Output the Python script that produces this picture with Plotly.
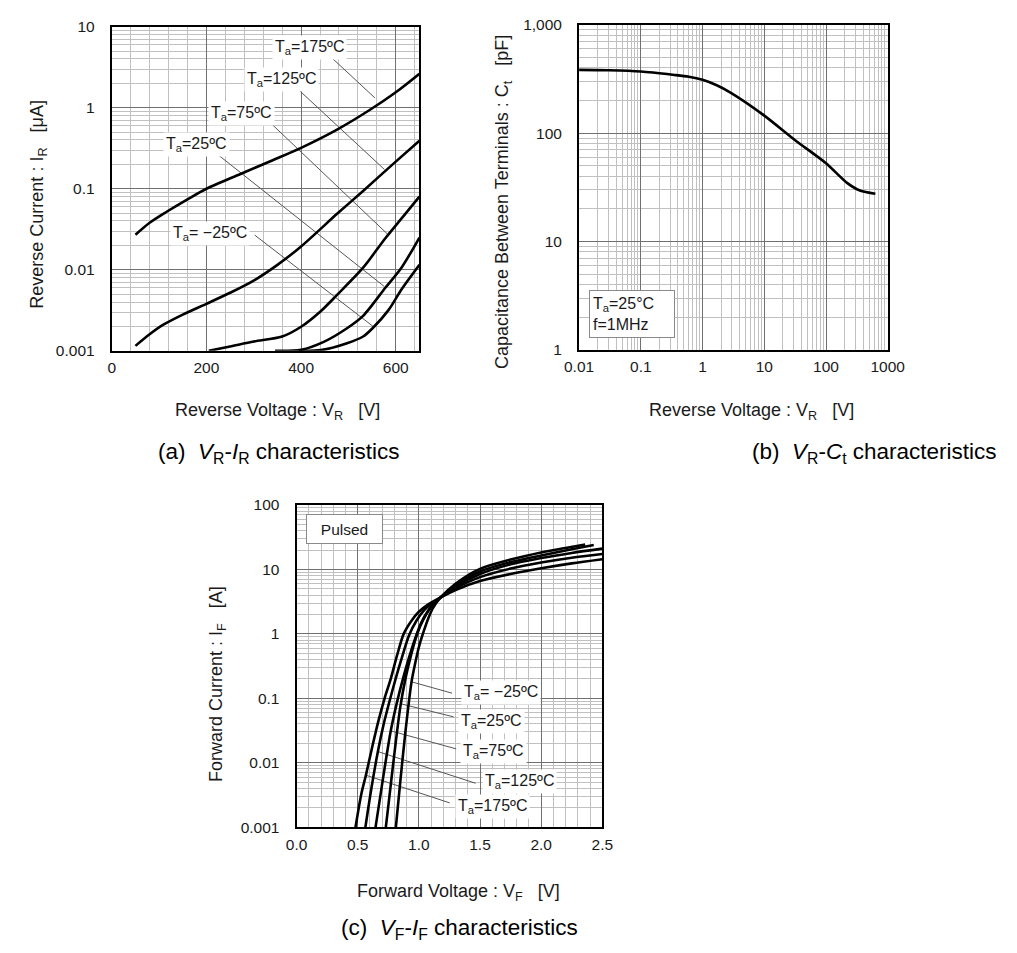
import math
import plotly.graph_objects as go

W, H = 1017, 953
FONT = "Arial, 'Liberation Sans', sans-serif"
TXT = "#1a1a1a"
MAJOR = "#707070"
MINOR = "#c0c0c0"
NB = "\u00a0"

# ---------------- (a) VR-IR: reverse current [uA] vs reverse voltage [V]
vr_labels = ["T<sub>a</sub>=175ºC", "T<sub>a</sub>=125ºC", "T<sub>a</sub>=75ºC",
             "T<sub>a</sub>=25ºC", "T<sub>a</sub>= −25ºC"]
vr_175 = [50, 80, 116, 160, 200, 272, 340, 400, 476, 544, 600, 650]
ir_175 = [0.027, 0.038, 0.052, 0.074, 0.1, 0.152, 0.225, 0.32, 0.537, 0.93, 1.55, 2.63]
vr_125 = [50, 80, 109, 150, 200, 250, 299, 350, 400, 476, 531, 600, 650]
ir_125 = [0.00115, 0.0016, 0.0021, 0.0028, 0.0038, 0.0052, 0.0073, 0.0115, 0.0194, 0.049, 0.094, 0.216, 0.39]
vr_75 = [205, 250, 300, 360, 400, 442, 476, 531, 578, 615, 650]
ir_75 = [0.001, 0.00113, 0.0013, 0.0015, 0.00198, 0.0031, 0.0049, 0.0106, 0.0245, 0.045, 0.08]
vr_25 = [345, 400, 449, 497, 531, 578, 612, 650]
ir_25 = [0.001, 0.00103, 0.0013, 0.0019, 0.0027, 0.006, 0.0106, 0.025]
vr_m25 = [395, 442, 497, 531, 551, 585, 612, 650]
ir_m25 = [0.001, 0.00102, 0.00124, 0.0015, 0.0019, 0.0032, 0.0057, 0.0115]
# label centres (V, uA) and leader line ends
vr_lab_x = [417, 359, 275, 180, 208]
vr_lab_y = [5.46, 2.25, 0.86, 0.349, 0.0281]
vr_lead = [((465, 4.12), (556, 1.32)),
           ((393, 1.70), (576, 0.173)),
           ((322, 0.77), (583, 0.0274)),
           ((224, 0.264), (576, 0.0062)),
           ((302, 0.0268), (553, 0.00198))]

# ---------------- (b) VR-Ct: capacitance [pF] vs reverse voltage [V]
ct_vr = [0.01, 0.03, 0.1, 0.333, 0.6, 1, 1.7, 2.88, 10, 31.6, 100, 219, 355, 630]
ct_pf = [383, 380, 370, 345, 331, 310, 276, 235, 145, 86, 52.7, 34.7, 29.5, 27.5]

# ---------------- (c) VF-IF: forward current [A] vs forward voltage [V]
vf_labels = ["T<sub>a</sub>= −25ºC", "T<sub>a</sub>=25ºC", "T<sub>a</sub>=75ºC",
             "T<sub>a</sub>=125ºC", "T<sub>a</sub>=175ºC"]
vf_m25 = [0.812, 0.85, 0.89, 0.94, 0.97, 1.0, 1.04, 1.08, 1.12, 1.18, 1.3, 1.5, 1.75, 2.0, 2.2, 2.36]
if_m25 = [0.001, 0.0055, 0.03, 0.18, 0.35, 0.62, 1.1, 1.8, 2.6, 3.7, 6.0, 10.2, 14.2, 18.3, 21.5, 24.3]
vf_25 = [0.730, 0.77, 0.81, 0.849, 0.89, 0.93, 0.97, 1.01, 1.06, 1.11, 1.18, 1.3, 1.5, 1.75, 2.0, 2.25, 2.43]
if_25 = [0.001, 0.0045, 0.02, 0.075, 0.2, 0.42, 0.8, 1.3, 2.0, 2.8, 3.7, 5.7, 9.3, 13.0, 16.5, 20.5, 24.0]
vf_75 = [0.646, 0.70, 0.77, 0.82, 0.87, 0.92, 0.97, 1.02, 1.07, 1.12, 1.18, 1.3, 1.5, 1.75, 2.0, 2.25, 2.5]
if_75 = [0.001, 0.0047, 0.031, 0.085, 0.2, 0.43, 0.85, 1.5, 2.2, 2.9, 3.7, 5.4, 8.5, 12.0, 15.0, 18.0, 21.0]
vf_125 = [0.563, 0.61, 0.665, 0.71, 0.76, 0.81, 0.86, 0.92, 0.98, 1.04, 1.1, 1.18, 1.3, 1.5, 1.75, 2.0, 2.25, 2.5]
if_125 = [0.001, 0.0038, 0.0149, 0.038, 0.09, 0.2, 0.42, 0.95, 1.6, 2.3, 2.9, 3.7, 5.1, 7.6, 10.3, 12.8, 15.2, 17.4]
vf_175 = [0.482, 0.53, 0.567, 0.62, 0.67, 0.72, 0.77, 0.82, 0.876, 0.94, 1.0, 1.08, 1.18, 1.3, 1.5, 1.75, 2.0, 2.25, 2.5]
if_175 = [0.001, 0.0033, 0.0064, 0.018, 0.045, 0.1, 0.2, 0.45, 1.0, 1.6, 2.2, 2.9, 3.7, 4.8, 6.6, 8.5, 10.4, 12.4, 14.4]
vf_lab_x = [1.669, 1.598, 1.608, 1.82, 1.60]
vf_lab_y = [0.123, 0.0443, 0.0151, 0.0052, 0.00211]
vf_lead = [((0.941, 0.180), (1.271, 0.120)),
           ((0.849, 0.0824), (1.284, 0.0515)),
           ((0.770, 0.0312), (1.305, 0.0164)),
           ((0.665, 0.0149), (1.464, 0.0048)),
           ((0.567, 0.0064), (1.252, 0.00238))]

# tick labels
a_xticks = [0, 200, 400, 600]
a_yticks = [0.001, 0.01, 0.1, 1, 10]
a_yticktext = ["0.001", "0.01", "0.1", "1", "10"]
b_xticks = [0.01, 0.1, 1, 10, 100, 1000]
b_xticktext = ["0.01", "0.1", "1", "10", "100", "1000"]
b_yticks = [1, 10, 100, 1000]
b_yticktext = ["1", "10", "100", "1,000"]
c_xticks = [0, 0.5, 1.0, 1.5, 2.0, 2.5]
c_xticktext = ["0.0", "0.5", "1.0", "1.5", "2.0", "2.5"]
c_yticks = [0.001, 0.01, 0.1, 1, 10, 100]
c_yticktext = ["0.001", "0.01", "0.1", "1", "10", "100"]


def px_x(p):
    return p / W


def px_y(p):
    return 1 - p / H


def log_minors(lo, hi):
    return [m * 10 ** e for e in range(lo, hi) for m in range(2, 10)]


fig = go.Figure()

curve = dict(mode="lines", line=dict(color="black", width=2.6, shape="spline", smoothing=0.8),
             hoverinfo="skip", showlegend=False)
lead = dict(mode="lines", line=dict(color="#555555", width=1), hoverinfo="skip", showlegend=False)

# (a)
for (p0, p1) in vr_lead:
    fig.add_trace(go.Scatter(x=[p0[0], p1[0]], y=[p0[1], p1[1]], xaxis="x", yaxis="y", **lead))
for xs, ys in [(vr_175, ir_175), (vr_125, ir_125), (vr_75, ir_75), (vr_25, ir_25), (vr_m25, ir_m25)]:
    fig.add_trace(go.Scatter(x=xs, y=ys, xaxis="x", yaxis="y", **curve))

# (b)
fig.add_trace(go.Scatter(x=ct_vr, y=ct_pf, xaxis="x2", yaxis="y2", **curve))

# (c)
for (p0, p1) in vf_lead:
    fig.add_trace(go.Scatter(x=[p0[0], p1[0]], y=[p0[1], p1[1]], xaxis="x3", yaxis="y3", **lead))
for xs, ys in [(vf_m25, if_m25), (vf_25, if_25), (vf_75, if_75), (vf_125, if_125), (vf_175, if_175)]:
    fig.add_trace(go.Scatter(x=xs, y=ys, xaxis="x3", yaxis="y3", **curve))

base_axis = dict(showline=True, mirror=True, linecolor="black", linewidth=2, zeroline=False,
                 showgrid=True, gridcolor=MAJOR, gridwidth=1, ticks="",
                 tickfont=dict(family=FONT, size=15.5, color=TXT))
xax = dict(base_axis, ticklabelstandoff=2)
yax = dict(base_axis, ticklabelstandoff=12)

fig.update_layout(
    width=W, height=H, margin=dict(l=0, r=0, t=0, b=0),
    paper_bgcolor="white", plot_bgcolor="white", showlegend=False,
    font=dict(family=FONT, color=TXT),
    xaxis=dict(xax, anchor="y", domain=[px_x(100), px_x(418)], range=[0, 650],
               tickmode="array", tickvals=a_xticks,
               minor=dict(tickmode="linear", tick0=0, dtick=40, showgrid=True, gridcolor=MINOR, gridwidth=1)),
    yaxis=dict(yax, anchor="x", type="log", domain=[px_y(348), px_y(18)], range=[-3, 1],
               tickmode="array", tickvals=a_yticks, ticktext=a_yticktext,
               minor=dict(tickmode="array", tickvals=log_minors(-3, 1), showgrid=True, gridcolor=MINOR)),
    xaxis2=dict(xax, anchor="y2", type="log", domain=[px_x(583), px_x(902)], range=[-2, 3],
                tickmode="array", tickvals=b_xticks, ticktext=b_xticktext,
                minor=dict(tickmode="array", tickvals=log_minors(-2, 3), showgrid=True, gridcolor=MINOR)),
    yaxis2=dict(yax, anchor="x2", type="log", domain=[px_y(347), px_y(16)], range=[0, 3],
                tickmode="array", tickvals=b_yticks, ticktext=b_yticktext,
                minor=dict(tickmode="array", tickvals=log_minors(0, 3), showgrid=True, gridcolor=MINOR)),
    xaxis3=dict(xax, anchor="y3", domain=[px_x(291), px_x(607)], range=[0, 2.5],
                tickmode="array", tickvals=c_xticks, ticktext=c_xticktext,
                minor=dict(tickmode="linear", tick0=0, dtick=0.1, showgrid=True, gridcolor=MINOR)),
    yaxis3=dict(yax, anchor="x3", type="log", domain=[px_y(833), px_y(505)], range=[-3, 2],
                tickmode="array", tickvals=c_yticks, ticktext=c_yticktext,
                minor=dict(tickmode="array", tickvals=log_minors(-3, 2), showgrid=True, gridcolor=MINOR)),
)

ann = []
lab_font = dict(family=FONT, size=16, color=TXT)
for t, x, y in zip(vr_labels, vr_lab_x, vr_lab_y):
    ann.append(dict(text=t, x=x, y=math.log10(y), xref="x", yref="y", showarrow=False,
                    bgcolor="white", borderpad=2, font=lab_font))
for t, x, y in zip(vf_labels, vf_lab_x, vf_lab_y):
    ann.append(dict(text=t, x=x, y=math.log10(y), xref="x3", yref="y3", showarrow=False,
                    bgcolor="white", borderpad=2, font=lab_font))

# condition boxes
ann.append(dict(text="T<sub>a</sub>=25°C<br>f=1MHz", x=px_x(593), y=px_y(286), xref="paper", yref="paper",
                xanchor="left", yanchor="top", align="left", showarrow=False, bgcolor="white",
                bordercolor="#8a8a8a", borderwidth=1, borderpad=3, width=78, height=40,
                font=dict(family=FONT, size=16, color=TXT)))
ann.append(dict(text="Pulsed", x=px_x(301), y=px_y(514), xref="paper", yref="paper",
                xanchor="left", yanchor="top", showarrow=False, bgcolor="white",
                bordercolor="#8a8a8a", borderwidth=1, borderpad=3, width=69, height=22,
                font=dict(family=FONT, size=15.5, color=TXT)))

title_font = dict(family=FONT, size=18, color=TXT)
sp = NB * 3
titles = [
    ("Reverse Current : I<sub>R</sub>" + sp + "[μA]", 24, 199, -90),
    ("Reverse Voltage : V<sub>R</sub>" + sp + "[V]", 271, 410, 0),
    ("Capacitance Between Terminals : C<sub>t</sub>" + sp + "[pF]", 505, 197, -90),
    ("Reverse Voltage : V<sub>R</sub>" + sp + "[V]", 761, 410, 0),
    ("Forward Current : I<sub>F</sub>" + sp + "[A]", 210, 687, -90),
    ("Forward Voltage : V<sub>F</sub>" + sp + "[V]", 458, 900, 0),
]
for t, x, y, ang in titles:
    ann.append(dict(text=t, x=px_x(x), y=px_y(y), xref="paper", yref="paper", showarrow=False,
                    textangle=ang, xanchor="center", yanchor="middle", font=title_font))

cap_font = dict(family=FONT, size=22.5, color="black")
captions = [
    ("(a)" + NB * 2 + "<i>V</i><sub>R</sub>-<i>I</i><sub>R</sub> characteristics", 273, 452),
    ("(b)" + NB * 2 + "<i>V</i><sub>R</sub>-<i>C</i><sub>t</sub> characteristics", 888, 452),
    ("(c)" + NB * 2 + "<i>V</i><sub>F</sub>-<i>I</i><sub>F</sub> characteristics", 459, 937),
]
for t, x, y in captions:
    ann.append(dict(text=t, x=px_x(x), y=px_y(y), xref="paper", yref="paper", showarrow=False,
                    xanchor="center", yanchor="middle", font=cap_font))

fig.update_layout(annotations=ann)
fig.write_html("out.html")
